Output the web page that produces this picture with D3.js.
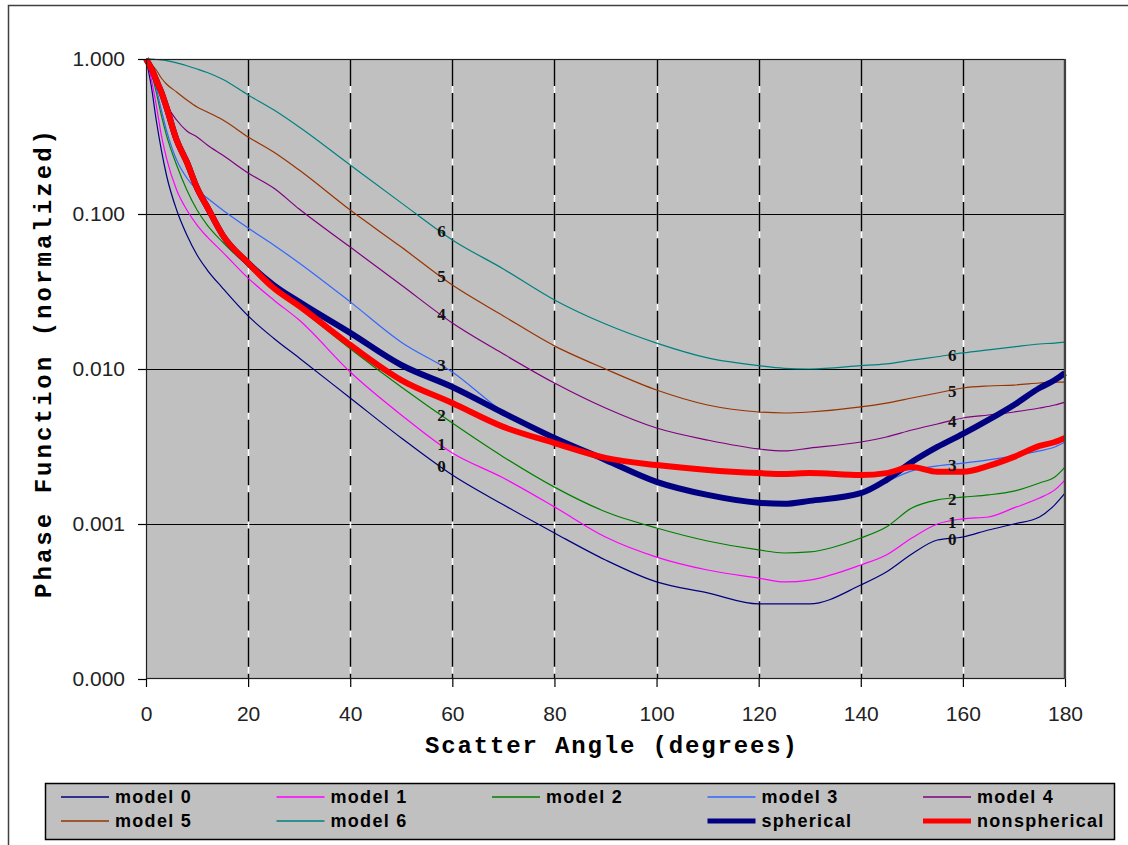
<!DOCTYPE html>
<html>
<head>
<meta charset="utf-8">
<script src="https://cdn.jsdelivr.net/npm/d3@7"></script>
<style>
  body { margin: 0; background: #ffffff; }
  svg { display: block; }
</style>
</head>
<body>
<svg id="chart" width="1128" height="845"></svg>
<script>
// Scatter angles (degrees) shared by every series
const angles = [0, 1, 2, 3, 4, 6, 8, 10, 12, 15, 20, 25, 30, 40, 50, 60, 70, 80, 90, 100,
                110, 120, 125, 130, 140, 145, 150, 155, 160, 165, 170, 175, 178, 180];

// Normalized phase function for each aerosol model
const model0 = [1.0, 0.680, 0.404, 0.259, 0.1785, 0.1061, 0.0732, 0.0544, 0.0435, 0.0333, 0.0220, 0.0158, 0.01178,
                0.0065, 0.00359, 0.00207, 0.00133, 0.000875, 0.000586, 0.000423, 0.000359, 0.000305, 0.000305,
                0.000305, 0.000404, 0.000490, 0.000640, 0.000788, 0.000824, 0.000915, 0.00100, 0.00111, 0.00133, 0.00158];
const model1 = [1.0, 0.754, 0.505, 0.323, 0.230, 0.1428, 0.1061, 0.0849, 0.0711, 0.0568, 0.0386, 0.0279, 0.0207,
                0.00956, 0.00505, 0.00287, 0.00198, 0.00129, 0.000824, 0.000612, 0.000505, 0.000448, 0.000423,
                0.000435, 0.000544, 0.000631, 0.000812, 0.00100, 0.00108, 0.00111, 0.00127, 0.00147, 0.00166, 0.00192];
const model2 = [1.0, 0.824, 0.612, 0.435, 0.323, 0.207, 0.1428, 0.1061, 0.0849, 0.0660, 0.0462, 0.0333, 0.0247,
                0.0135, 0.00765, 0.00448, 0.00271, 0.00173, 0.00120, 0.000942, 0.000777, 0.000680, 0.000650,
                0.000660, 0.000812, 0.000956, 0.00127, 0.00143, 0.00149, 0.00154, 0.00163, 0.00184, 0.00201, 0.00233];
const model3 = [1.0, 0.849, 0.650, 0.469, 0.348, 0.223, 0.1707, 0.1428, 0.1268, 0.1061, 0.0812, 0.0631, 0.0483,
                0.0271, 0.0149, 0.00956, 0.00528, 0.00353, 0.00255, 0.00184, 0.00152, 0.00135, 0.00133,
                0.00139, 0.00156, 0.00187, 0.00220, 0.00237, 0.00247, 0.00259, 0.00275, 0.00296, 0.00314, 0.00338];
const model4 = [1.0, 0.915, 0.788, 0.631, 0.5125, 0.404, 0.343, 0.314, 0.279, 0.240, 0.184, 0.147, 0.1077,
                0.0612, 0.0348, 0.0198, 0.0125, 0.00812, 0.0056, 0.00416, 0.00348, 0.00305, 0.00296,
                0.00309, 0.00338, 0.00364, 0.00404, 0.00442, 0.00483, 0.00505, 0.00528, 0.0056, 0.00586, 0.00612];
const model5 = [1.0, 0.928, 0.849, 0.754, 0.690, 0.612, 0.544, 0.490, 0.455, 0.405, 0.314, 0.251, 0.192,
                0.106, 0.0612, 0.0348, 0.0220, 0.0141, 0.0100, 0.00732, 0.00586, 0.00528, 0.00520,
                0.00528, 0.00569, 0.00603, 0.0065, 0.0070, 0.00754, 0.00777, 0.00788, 0.00812, 0.00824, 0.00824];
const model6 = [1.0, 1.0, 0.993, 0.985, 0.975, 0.945, 0.905, 0.862, 0.818, 0.740, 0.586, 0.470, 0.364,
                0.207, 0.118, 0.068, 0.0442, 0.0279, 0.0195, 0.0147, 0.0118, 0.0105, 0.0101,
                0.0100, 0.0105, 0.0108, 0.0114, 0.0120, 0.0127, 0.0133, 0.0139, 0.0145, 0.0147, 0.0149];
const spherical = [1.0, 0.875, 0.732, 0.612, 0.490, 0.300, 0.2165, 0.1472, 0.111, 0.0732, 0.0483, 0.0348, 0.0271,
                0.0171, 0.01061, 0.00765, 0.00520, 0.00359, 0.00259, 0.00187, 0.00154, 0.00137, 0.00135,
                0.00141, 0.00158, 0.00192, 0.00251, 0.00314, 0.00381, 0.00469, 0.00586, 0.00754, 0.00849, 0.00942];
const nonspherical = [1.0, 0.875, 0.732, 0.612, 0.490, 0.300, 0.2165, 0.1472, 0.111, 0.0732, 0.0483, 0.0333, 0.0255,
                0.0143, 0.00849, 0.00603, 0.00423, 0.00333, 0.00267, 0.00240, 0.00223, 0.00213, 0.00210,
                0.00213, 0.00207, 0.00213, 0.00233, 0.00217, 0.00217, 0.00237, 0.00271, 0.00319, 0.00338, 0.00359];

// Axis ticks
const xTickValues = [0, 20, 40, 60, 80, 100, 120, 140, 160, 180];
const yTickValues = [1, 0.1, 0.01, 0.001, 0.0001];

// Angles at which the model numbers are written on their curves
const curveLabelAngles = [57.5, 157.5];

const series = [
  { name: "model 0", values: model0, color: "#000080", width: 1.2, tag: "0" },
  { name: "model 1", values: model1, color: "#ff00ff", width: 1.2, tag: "1" },
  { name: "model 2", values: model2, color: "#008000", width: 1.2, tag: "2" },
  { name: "model 3", values: model3, color: "#3366ff", width: 1.2, tag: "3" },
  { name: "model 4", values: model4, color: "#800080", width: 1.2, tag: "4" },
  { name: "model 5", values: model5, color: "#993300", width: 1.2, tag: "5" },
  { name: "model 6", values: model6, color: "#008080", width: 1.2, tag: "6" },
  { name: "spherical", values: spherical, color: "#000080", width: 6 },
  { name: "nonspherical", values: nonspherical, color: "#ff0000", width: 6 }
];

const svg = d3.select("#chart");
const W = 1128, H = 845;
const plot = { left: 146, top: 59, right: 1065, bottom: 679 };

// Outer chart frame
svg.append("rect")
  .attr("x", 8.5).attr("y", 5.5)
  .attr("width", W + 20).attr("height", H + 20)
  .attr("fill", "#ffffff").attr("stroke", "#404040").attr("stroke-width", 1.5);

const x = d3.scaleLinear().domain([0, 180]).range([plot.left, plot.right]);
const y = d3.scaleLog().domain([0.0001, 1]).range([plot.bottom, plot.top]);

// Plot background
svg.append("rect")
  .attr("x", plot.left).attr("y", plot.top)
  .attr("width", plot.right - plot.left).attr("height", plot.bottom - plot.top)
  .attr("fill", "#c0c0c0");

// Horizontal grid lines at each decade
svg.append("g").selectAll("line")
  .data(yTickValues.slice(1, -1))
  .join("line")
  .attr("x1", plot.left).attr("x2", plot.right)
  .attr("y1", d => Math.round(y(d)) + 0.5).attr("y2", d => Math.round(y(d)) + 0.5)
  .attr("stroke", "#000").attr("stroke-width", 1);

// Vertical grid lines: black dashes over a white line
const vGrid = svg.append("g");
const innerX = xTickValues.slice(1, -1);
vGrid.selectAll("line.w")
  .data(innerX).join("line").attr("class", "w")
  .attr("x1", d => Math.round(x(d)) + 0.5).attr("x2", d => Math.round(x(d)) + 0.5)
  .attr("y1", plot.top).attr("y2", plot.bottom)
  .attr("stroke", "#ffffff").attr("stroke-width", 1.5);
vGrid.selectAll("line.b")
  .data(innerX).join("line").attr("class", "b")
  .attr("x1", d => Math.round(x(d)) + 0.5).attr("x2", d => Math.round(x(d)) + 0.5)
  .attr("y1", plot.top).attr("y2", plot.bottom)
  .attr("stroke", "#000").attr("stroke-width", 1.5)
  .attr("stroke-dasharray", "29.3,7").attr("stroke-dashoffset", 2.3);

// Curves
const line = d3.line()
  .x((d, i) => x(angles[i]))
  .y(d => y(d))
  .curve(d3.curveMonotoneX);

svg.append("g").selectAll("path")
  .data(series)
  .join("path")
  .attr("d", s => line(s.values))
  .attr("fill", "none")
  .attr("stroke", s => s.color)
  .attr("stroke-width", s => s.width)
  .attr("stroke-linejoin", "round");

// Plot border
svg.append("rect")
  .attr("x", plot.left + 0.5).attr("y", plot.top + 0.5)
  .attr("width", plot.right - plot.left - 1).attr("height", plot.bottom - plot.top - 1)
  .attr("fill", "none").attr("stroke", "#202020").attr("stroke-width", 1.2);
svg.append("line")
  .attr("x1", plot.right).attr("x2", plot.right)
  .attr("y1", plot.top).attr("y2", plot.bottom)
  .attr("stroke", "#404040").attr("stroke-width", 2.2);

// Model numbers written on the curves
function valueAt(values, a) {
  const i = d3.bisectRight(angles, a) - 1;
  const t = (a - angles[i]) / (angles[i + 1] - angles[i]);
  const l0 = Math.log10(values[i]), l1 = Math.log10(values[i + 1]);
  return Math.pow(10, l0 + t * (l1 - l0));
}
const tagData = [];
series.filter(s => s.tag).forEach(s => {
  curveLabelAngles.forEach(a => tagData.push({ tag: s.tag, a, v: valueAt(s.values, a) }));
});
svg.append("g").selectAll("text")
  .data(tagData)
  .join("text")
  .attr("x", d => x(d.a) + 2)
  .attr("y", d => y(d.v) + 1)
  .attr("text-anchor", "middle")
  .attr("dominant-baseline", "central")
  .attr("font-family", "'Liberation Serif', 'Times New Roman', serif")
  .attr("font-weight", "bold")
  .attr("font-size", 17)
  .attr("fill", "#111")
  .text(d => d.tag);

// Axes
const axisFont = "'Liberation Sans', Arial, sans-serif";
const yAxis = svg.append("g")
  .attr("transform", `translate(${plot.left},0)`)
  .call(d3.axisLeft(y).tickValues(yTickValues).tickFormat(d3.format(".3f")).tickSize(8).tickPadding(13));
const xAxis = svg.append("g")
  .attr("transform", `translate(0,${plot.bottom})`)
  .call(d3.axisBottom(x).tickValues(xTickValues).tickSize(8).tickPadding(19));
[yAxis, xAxis].forEach(g => {
  g.select(".domain").remove();
  g.selectAll(".tick line").attr("stroke", "#000").attr("stroke-width", 1.2);
  g.selectAll(".tick text")
    .attr("font-family", axisFont).attr("font-size", 21).attr("fill", "#222");
});

// Axis titles
svg.append("text")
  .attr("x", 611).attr("y", 753)
  .attr("text-anchor", "middle")
  .attr("font-family", "'Liberation Mono', 'Courier New', monospace")
  .attr("font-weight", "bold").attr("font-size", 24)
  .attr("textLength", 372).attr("lengthAdjust", "spacing")
  .text("Scatter Angle (degrees)");
svg.append("text")
  .attr("transform", "translate(51,364) rotate(-90)")
  .attr("text-anchor", "middle")
  .attr("font-family", "'Liberation Mono', 'Courier New', monospace")
  .attr("font-weight", "bold").attr("font-size", 24)
  .attr("textLength", 468).attr("lengthAdjust", "spacing")
  .text("Phase Function (normalized)");

// Legend
const legend = svg.append("g");
legend.append("rect")
  .attr("x", 45.5).attr("y", 783.5).attr("width", 1069).attr("height", 56)
  .attr("fill", "#c0c0c0").attr("stroke", "#000").attr("stroke-width", 1.5);
const slots = [0, 1, 2, 3, 4, 5, 6, null, 7, 8];
const legendItems = slots.map((k, i) => k === null ? null : { s: series[k], col: i % 5, row: Math.floor(i / 5) })
  .filter(d => d);
const item = legend.selectAll("g.item")
  .data(legendItems)
  .join("g").attr("class", "item")
  .attr("transform", d => `translate(${61 + d.col * 215.5},${797 + d.row * 24})`);
item.append("line")
  .attr("x1", 0).attr("x2", 48).attr("y1", 0).attr("y2", 0)
  .attr("stroke", d => d.s.color)
  .attr("stroke-width", d => d.s.width > 2 ? 5 : 1.5);
item.append("text")
  .attr("x", 54).attr("y", 0)
  .attr("dominant-baseline", "central")
  .attr("font-family", "'Liberation Sans Narrow', 'Arial Narrow', 'Liberation Sans', Arial, sans-serif")
  .attr("font-weight", "bold").attr("font-size", 18)
  .attr("letter-spacing", 1.3)
  .attr("fill", "#000")
  .text(d => d.s.name);
</script>
</body>
</html>
